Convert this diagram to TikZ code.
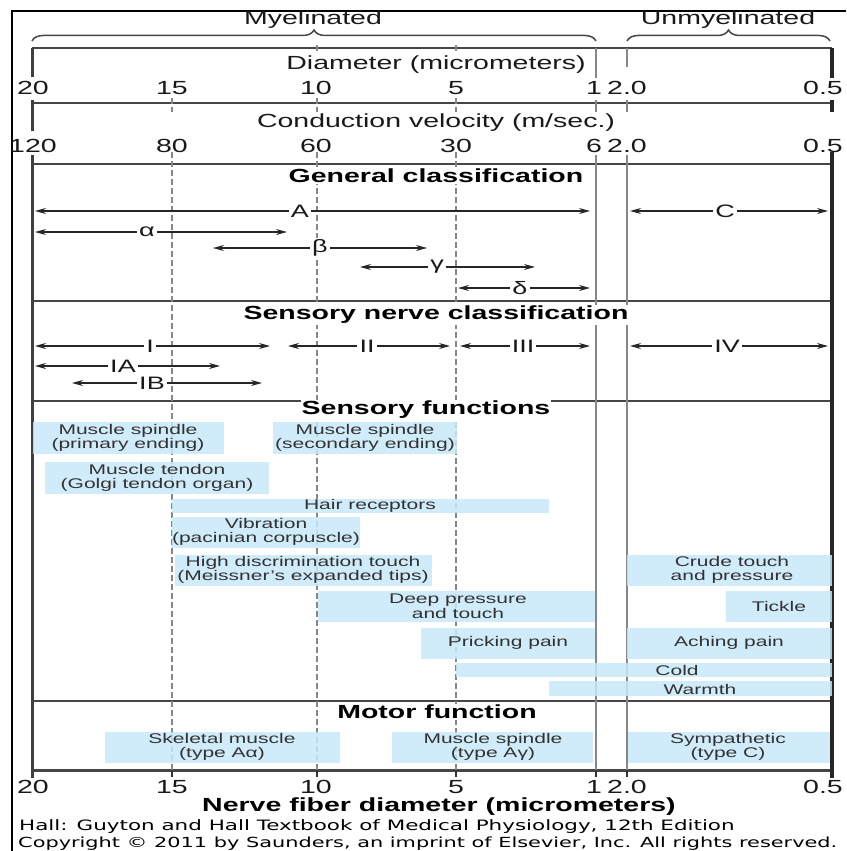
\documentclass[tikz,border=0pt]{standalone}
\usepackage{fontspec}
\setmainfont{Liberation Sans}[FakeStretch=1.5]
\newfontfamily\creditfont{DejaVu Sans}[FakeStretch=1.5]
\usetikzlibrary{arrows.meta,decorations.pathreplacing}
\definecolor{fiberblue}{RGB}{200,232,248}
\definecolor{gridgrey}{RGB}{135,135,135}
\definecolor{rulegrey}{RGB}{70,70,70}
\definecolor{boxtext}{RGB}{50,50,50}
\tikzset{
  num/.style={font=\fontsize{19}{19}\selectfont, text=black!90, inner sep=0pt},
  heading/.style={font=\fontsize{19}{19}\selectfont\bfseries, fill=white, inner sep=1pt},
  scalelab/.style={font=\fontsize{19}{19}\selectfont, text=black!90, inner sep=1pt},
  clslab/.style={font=\fontsize{18}{18}\selectfont, text=black!90, fill=white, inner sep=2pt},
  clsarrow/.style={draw=black!85, line width=1.3pt, -{Stealth[length=11pt,width=6pt]}},
  boxlab/.style={font=\fontsize{14}{14.5}\selectfont, text=boxtext, align=center, inner sep=0pt},
  credit/.style={font=\creditfont\fontsize{13.9}{13.9}\selectfont, anchor=west, inner sep=0pt},
  rule/.style={draw=rulegrey, line width=2pt},
  gridline/.style={draw=gridgrey, line width=2.2pt},
  dashline/.style={draw=gridgrey, line width=2.3pt, dash pattern=on 6pt off 3pt},
  endline/.style={draw=black!85, line width=3pt},
  brace/.style={draw=rulegrey, line width=1.5pt, decorate, decoration={brace, amplitude=11pt}}
}
\begin{document}
\begin{tikzpicture}[x=1pt,y=-1pt]
\useasboundingbox (0,0) rectangle (846,851);
% outer frame
\draw[black, line width=2.5pt] (12,851) -- (12,11) -- (846,11);

% braces
\draw[brace] (32,41) -- (596,41);
\draw[brace] (627,41) -- (830,41);
\node[scalelab] (myel) at (313,20) {Myelinated};
\node[scalelab] (unmyel) at (728,20) {Unmyelinated};

% scale rules
\path[rule] (32,48) -- (832,48);
\path[rule] (32,103) -- (832,103);
\foreach \y in {164,301,401,701}{
    \path[rule] (32,\y) -- (832,\y);
}
\path[rule, line width=3pt] (32,770) -- (832,770);

% dashed grid (15, 10, 5)
\foreach \x in {172,317,456}{
    \path[dashline] (\x,152) -- (\x,770);
    \path[dashline] (\x,98) -- (\x,112);
}
\foreach \x in {317,456}{
    \path[draw=gridgrey, line width=2pt] (\x,45) -- (\x,51);
}

% solid grey lines (1 and 2.0)
\path[gridline] (596,48) -- (596,78);
\path[gridline] (627,48) -- (627,67);
\foreach \x in {596,627}{
    \path[gridline] (\x,100) -- (\x,112);
    \path[gridline] (\x,155) -- (\x,770);
}

% outer axis lines
\path[endline, draw=black!75] (32,48) -- (32,77);
\path[endline, draw=black!75] (32,100) -- (32,131);
\path[endline, draw=black!75] (32,155) -- (32,778);
\path[endline, line width=3.5pt] (832,48) -- (832,78);
\path[endline, line width=3.5pt] (832,100) -- (832,112);
\path[endline, line width=3.5pt] (832,152) -- (832,778);
\foreach \x in {172,317,456,596,627}{
    \path[draw=black!80, line width=2pt] (\x,770) -- (\x,777);
}

% scale labels
\node[scalelab] (dia) at (436,65) {Diameter (micrometers)};
\node[scalelab] (vel) at (436,123) {Conduction velocity (m/sec.)};
\foreach \x/\t [count=\i] in {33/20,172/15,316/10,456/5,594/1,627/2.0,823/0.5}{
    \node[num] (dia\i) at (\x,88) {\t};
    \node[num] (bot\i) at (\x,787) {\t};
}
\foreach \x/\t [count=\i] in {33/120,172/80,316/60,456/30,594/6,627/2.0,823/0.5}{
    \node[num] (vel\i) at (\x,146) {\t};
}

% sensory / motor bars
\foreach \xa/\ya/\xb/\yb in {
    33/422/224/454, 273/422/457/454, 45/462/269/494, 172/499/549/513,
    172/517/360/548, 175/555/432/586, 318/591/595/622, 421/628/595/659,
    456/663/832/677, 549/681/832/696, 627/555/832/586, 726/591/832/622,
    627/628/832/659, 105/732/340/763, 392/732/593/763, 628/732/830/763
}{
    \fill[fiberblue, fill opacity=0.85] (\xa,\ya) rectangle (\xb,\yb);
}
\node[boxlab] (prim) at (128,438) {Muscle spindle\\(primary ending)};
\node[boxlab] (sec) at (365,438) {Muscle spindle\\(secondary ending)};
\node[boxlab] (tend) at (157,478) {Muscle tendon\\(Golgi tendon organ)};
\node[boxlab] (hair) at (370,506) {Hair receptors};
\node[boxlab] (vib) at (266,532) {Vibration\\(pacinian corpuscle)};
\node[boxlab] (meis) at (303,570) {High discrimination touch\\(Meissner's expanded tips)};
\node[boxlab] (deep) at (458,606) {Deep pressure\\and touch};
\node[boxlab] (prick) at (508,643) {Pricking pain};
\node[boxlab] (cold) at (677,670) {Cold};
\node[boxlab] (warm) at (700,689) {Warmth};
\node[boxlab] (crude) at (732,570) {Crude touch\\and pressure};
\node[boxlab] (tickle) at (779,606) {Tickle};
\node[boxlab] (ache) at (729,643) {Aching pain};
\node[boxlab] (skel) at (222,747) {Skeletal muscle\\(type Aα)};
\node[boxlab] (spin) at (493,747) {Muscle spindle\\(type Aγ)};
\node[boxlab] (symp) at (728,747) {Sympathetic\\(type C)};

% fiber classes
\foreach \n/\lab/\y/\xa/\xm/\xb in {
    A/A/211/35/300/590, C/C/211/630/725/828,
    al/α/232/35/147/287, be/β/248/213/320/427,
    ga/γ/267/360/437/535, de/δ/288/458/520/590,
    I/I/346/35/150/270, II/II/346/288/367/450,
    III/III/346/460/523/590, IV/IV/346/630/727/828,
    IA/IA/366/35/123/220, IB/IB/383/72/152/262
}{
    \node[clslab] (\n) at (\xm,\y) {\lab};
    \coordinate (\n-l) at (\xa,\y);
    \coordinate (\n-r) at (\xb,\y);
    \draw[clsarrow] (\n) -- (\n-l);
    \draw[clsarrow] (\n) -- (\n-r);
}

% headings
\node[heading] (gen) at (436,176) {General classification};
\node[heading] (sens) at (436,315) {Sensory nerve classification};
\node[heading] (func) at (426,410) {Sensory functions};
\node[heading] (motor) at (437,712) {Motor function};
\node[heading, fill=none] (axis) at (439,807) {Nerve fiber diameter (micrometers)};

% credit
\node[credit, font=\creditfont\fontsize{14.3}{14.3}\selectfont] (hall) at (19,827) {Hall: Guyton and Hall Textbook of Medical Physiology, 12th Edition};
\node[credit] (copy) at (18,844) {Copyright © 2011 by Saunders, an imprint of Elsevier, Inc. All rights reserved.};
\end{tikzpicture}
\end{document}
